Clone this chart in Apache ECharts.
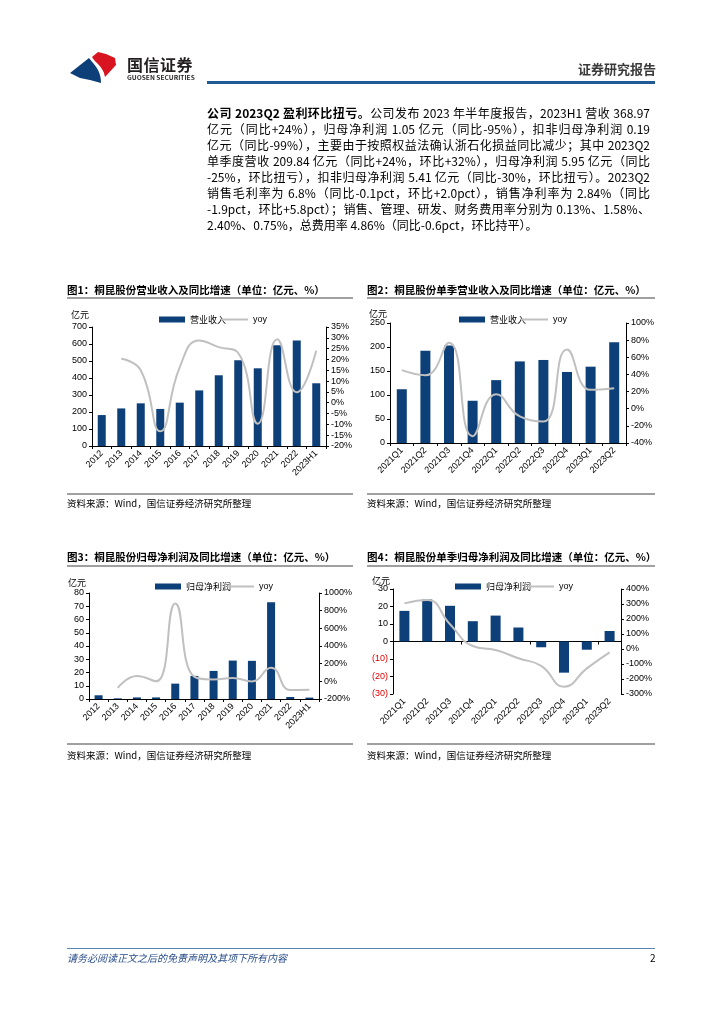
<!DOCTYPE html>
<html><head><meta charset="utf-8">
<script src="https://cdn.jsdelivr.net/npm/echarts@6/dist/echarts.min.js"></script>
<style>
html,body{margin:0;padding:0;background:#fff;}
#page{position:relative;width:724px;height:1024px;overflow:hidden;font-family:"Noto Sans CJK SC","Noto Sans",sans-serif;background:#fff;}
#chart{position:absolute;left:0;top:0;width:724px;height:1024px;}
.t{position:absolute;white-space:nowrap;}
.body{position:absolute;left:207px;top:105px;width:443px;font-size:12px;line-height:16px;color:#000;}
.body div{text-align:justify;text-align-last:justify;white-space:nowrap;}
.body div.last{text-align:left;text-align-last:left;}
</style>
</head><body>
<div id="page">
<div id="chart"></div>
<svg class="t" style="left:70px;top:52px" width="46" height="31" viewBox="0 0 46 31">
  <path d="M22,5 L28,0 L36,2 L45,6 L46,13 L35,25 C34,19 31,15 28,12 C25,9 23,7 22,5 Z" fill="#d7141f"/>
  <path d="M0,21 L19,6 C22,10 26,14 28,18 C30,22 31,26 31,31 L20,28 L10,26 Z" fill="#0d3f78"/>
</svg>
<div class="t" style="left:127px;top:52px;font-size:16px;font-weight:bold;color:#231f20;letter-spacing:0.5px;">国信证券</div>
<div class="t" style="left:127px;top:72px;font-size:6.6px;font-weight:bold;color:#231f20;">GUOSEN SECURITIES</div>
<div class="t" style="left:578px;top:59px;font-size:13px;font-weight:bold;color:#3a3a3a;">证券研究报告</div>
<div class="t" style="left:207px;top:81px;width:448px;height:2.5px;background:#1f5a96;"></div>

<div class="body">
<div><b>公司 2023Q2 盈利环比扭亏。</b>公司发布 2023 年半年度报告，2023H1 营收 368.97</div>
<div>亿元（同比+24%），归母净利润 1.05 亿元（同比-95%），扣非归母净利润 0.19</div>
<div>亿元（同比-99%），主要由于按照权益法确认浙石化损益同比减少；其中 2023Q2</div>
<div>单季度营收 209.84 亿元（同比+24%，环比+32%），归母净利润 5.95 亿元（同比</div>
<div>-25%，环比扭亏），扣非归母净利润 5.41 亿元（同比-30%，环比扭亏）。2023Q2</div>
<div>销售毛利率为 6.8%（同比-0.1pct，环比+2.0pct），销售净利率为 2.84%（同比</div>
<div>-1.9pct，环比+5.8pct）；销售、管理、研发、财务费用率分别为 0.13%、1.58%、</div>
<div class="last">2.40%、0.75%，总费用率 4.86%（同比-0.6pct，环比持平）。</div>
</div>

<div class="t" style="left:67px;top:948px;width:588px;height:1px;background:#5a86b6;"></div>
<div class="t" style="left:67px;top:950px;font-size:10px;font-style:italic;color:#2b4e8c;">请务必阅读正文之后的免责声明及其项下所有内容</div>
<div class="t" style="left:650px;top:950px;font-size:10px;color:#000;">2</div>
</div>
<script>
// ---------- data ----------
const yearCats = ['2012','2013','2014','2015','2016','2017','2018','2019','2020','2021','2022','2023H1'];
const quarterCats = ['2021Q1','2021Q2','2021Q3','2021Q4','2022Q1','2022Q2','2022Q3','2022Q4','2023Q1','2023Q2'];
const revenueAnnual = [182,221,251,218,255,327,416,504,457,592,620,369];
const revenueAnnualYoy = [null,20.3,15,-13.2,16.5,28.8,25.7,23,-9.7,29.3,4.8,24];
const revenueQuarter = [112,192,203,88,131,170,173,148,159,210];
const revenueQuarterYoy = [45,39,77,-32,17,-9,-15,69,22,24];
const profitAnnual = [2.8,0.5,1.2,1.2,11.6,17.4,21.2,29,28.8,73,1.5,1.05];
const profitAnnualYoy = [null,-75,60,0,880,50,22,38,-1,155,-98,-95];
const profitQuarter = [17.5,24,20.4,11.6,14.8,8,-3.3,-17.8,-4.7,6.0];
const profitQuarterYoy = [304,327,165,20,-7,-62,-113,-251,-129,-22];

const titles = ['图1：桐昆股份营业收入及同比增速（单位：亿元、%）','图2：桐昆股份单季营业收入及同比增速（单位：亿元、%）','图3：桐昆股份归母净利润及同比增速（单位：亿元、%）','图4：桐昆股份单季归母净利润及同比增速（单位：亿元、%）'];
const sourceText = '资料来源：Wind，国信证券经济研究所整理';

// ---------- style ----------
const BAR = '#0d3f78', LINE = '#c0c0c0';
const NUMF = '"Liberation Sans", Arial, sans-serif';
const CJKF = '"Noto Sans CJK SC", sans-serif';
const axisLine = {show:true, lineStyle:{color:'#000', width:1}};
const axisTick = {show:true, length:3, lineStyle:{color:'#000'}};

function xAx(grid, data, extra){
  return Object.assign({type:'category', gridIndex:grid, data:data, position:'bottom',
    axisLine:{show:true, onZero:false, lineStyle:{color:'#000'}}, axisTick:{show:true, length:3, lineStyle:{color:'#000'}},
    axisLabel:{interval:0, rotate:45, fontSize:9, fontFamily:NUMF, color:'#000', margin:6},
    splitLine:{show:false}}, extra||{});
}
function yAx(grid, pos, min, max, interval, fmt, name, nameGap, extra){
  const o = {type:'value', gridIndex:grid, position:pos, min:min, max:max, interval:interval,
    axisLine:axisLine, axisTick:axisTick, splitLine:{show:false},
    axisLabel:{fontSize:9, fontFamily:NUMF, color:'#000', margin:5, formatter:fmt}};
  if(name){ o.name = name; o.nameLocation='end'; o.nameGap = nameGap;
    o.nameTextStyle = {fontSize:9, fontFamily:CJKF, color:'#000', align:'right', padding:[0,3,0,0]}; }
  return Object.assign(o, extra||{});
}
const pct = v => v + '%';

const grids = [
  {left:92, top:327, width:234, height:119},
  {left:390, top:323, width:236, height:120},
  {left:89, top:593, width:230, height:106},
  {left:393, top:589, width:228, height:105}
];

const xAxis = [
  xAx(0, yearCats),
  xAx(1, quarterCats),
  xAx(2, yearCats),
  xAx(3, quarterCats, {axisLine:{show:false, onZero:false}, axisTick:{show:false}}),
  xAx(3, quarterCats, {axisLine:{show:true, onZero:true, onZeroAxisIndex:6, lineStyle:{color:'#000'}}, axisLabel:{show:false}})
];

const yAxis = [
  yAx(0,'left',0,700,100,null,'亿元',8),
  yAx(0,'right',-20,35,5,pct),
  yAx(1,'left',0,250,50,null,'亿元',5),
  yAx(1,'right',-40,100,20,pct),
  yAx(2,'left',0,80,10,null,'亿元',6),
  yAx(2,'right',-200,1000,200,pct),
  yAx(3,'left',-30,30,10,v => v<0 ? '{r|(' + (-v) + ')}' : String(v),'亿元',3),
  yAx(3,'right',-300,400,100,pct)
];
yAxis[6].axisLabel.rich = {r:{color:'#e00000', fontSize:9, fontFamily:NUMF}};

function barS(name, x, y, data, w){
  return {type:'bar', name:name, xAxisIndex:x, yAxisIndex:y, data:data, barWidth:w, itemStyle:{color:BAR}};
}
function lineS(x, y, data){
  return {type:'line', name:'yoy', xAxisIndex:x, yAxisIndex:y, data:data, smooth:true, symbol:'none',
    lineStyle:{color:LINE, width:2}, itemStyle:{color:LINE}, connectNulls:false, z:5};
}
const series = [
  barS('营业收入',0,0,revenueAnnual,8), lineS(0,1,revenueAnnualYoy),
  barS('营业收入',1,2,revenueQuarter,10), lineS(1,3,revenueQuarterYoy),
  barS('归母净利润',2,4,profitAnnual,8), lineS(2,5,profitAnnualYoy),
  barS('归母净利润',3,6,profitQuarter,10), lineS(3,7,profitQuarterYoy)
];

function legBar(left, top, name){
  return {left:left, top:top, padding:0, itemWidth:26, itemHeight:6, icon:'rect',
    textStyle:{fontSize:9, fontFamily:CJKF, color:'#000'}, data:[name], selectedMode:false};
}
function legLine(left, top){
  return {left:left, top:top, padding:0, itemWidth:27, itemHeight:2, icon:'rect',
    itemStyle:{color:LINE}, textStyle:{fontSize:9, fontFamily:NUMF, color:'#000'}, data:['yoy'], selectedMode:false};
}
const legend = [
  legBar(159,315,'营业收入'), legLine(221,315),
  legBar(459,315,'营业收入'), legLine(521,315),
  legBar(155,582,'归母净利润'), legLine(227,582),
  legBar(455,582,'归母净利润'), legLine(527,582)
];

// figure frames
const frames = [
  {x1:67, x2:353, tt:290, tl:298, bl:494, src:503},
  {x1:367, x2:655, tt:290, tl:298, bl:494, src:503},
  {x1:67, x2:353, tt:557, tl:566, bl:744, src:755},
  {x1:367, x2:655, tt:557, tl:566, bl:744, src:755}
];
const graphic = [];
frames.forEach((f,i) => {
  graphic.push({type:'text', x:f.x1, y:f.tt, style:{text:titles[i], fill:'#000', font:'bold 10.5px "Noto Sans CJK SC", sans-serif', verticalAlign:'middle'}});
  graphic.push({type:'line', shape:{x1:f.x1, y1:f.tl, x2:f.x2, y2:f.tl}, style:{stroke:'#808080', lineWidth:1.5}});
  graphic.push({type:'line', shape:{x1:f.x1, y1:f.bl, x2:f.x2, y2:f.bl}, style:{stroke:'#808080', lineWidth:1.5}});
  graphic.push({type:'text', x:f.x1, y:f.src, style:{text:sourceText, fill:'#000', font:'9.5px "Noto Sans CJK SC", sans-serif', verticalAlign:'middle'}});
});

const chart = echarts.init(document.getElementById('chart'), null, {renderer:'canvas'});
chart.setOption({
  animation:false,
  backgroundColor:'transparent',
  grid:grids, xAxis:xAxis, yAxis:yAxis, series:series, legend:legend, graphic:graphic
});
</script>
</body></html>
